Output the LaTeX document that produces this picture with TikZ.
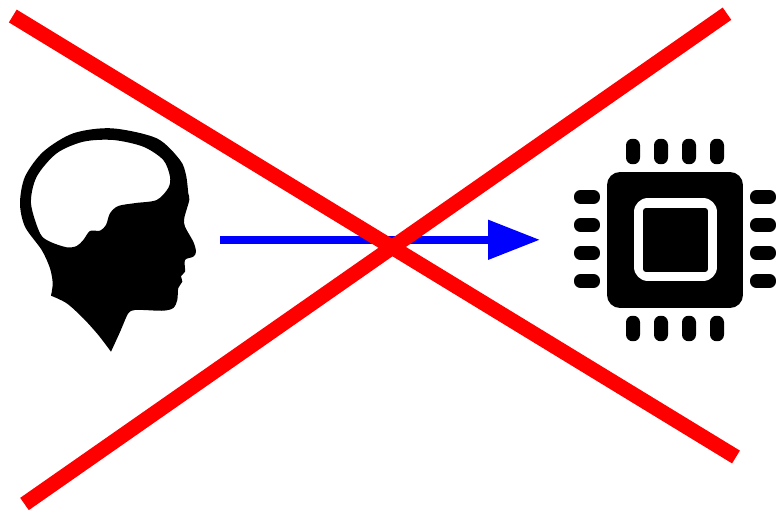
\documentclass[tikz,border=0pt]{standalone}
\usepackage{tikz}
\usetikzlibrary{arrows.meta}
\tikzset{
  crossline/.style={draw=red, line width=0.3cm},
  flowarrow/.style={-{Triangle[length=1.04cm, width=0.76cm]}, draw=blue, line width=0.16cm},
  chipbody/.style={fill=black, rounded corners=0.26cm, minimum width=2.72cm, minimum height=2.72cm, inner sep=0pt},
  chipring/.style={fill=white, rounded corners=0.28cm, minimum width=1.66cm, minimum height=1.66cm, inner sep=0pt},
  chipcore/.style={fill=black, rounded corners=0.06cm, minimum width=1.3cm, minimum height=1.28cm, inner sep=0pt},
  pinv/.style={fill=black, rounded corners=0.13cm, minimum width=0.28cm, minimum height=0.51cm, inner sep=0pt},
  pinh/.style={fill=black, rounded corners=0.13cm, minimum width=0.52cm, minimum height=0.28cm, inner sep=0pt}
}
\begin{document}
\begin{tikzpicture}[x=0.02cm, y=-0.02cm]
  \useasboundingbox (0,0) rectangle (779,510);
  % head
  \fill[black, even odd rule]
    plot[smooth, tension=0.5] coordinates {(111,351.7) (120,332) (128.3,313.3) (135,310) (143.3,310) (163.3,310.7) (173.3,308) (177.3,300) (178.3,288) (182.3,281.7) (181,276) (185,271.7) (185,260) (193.3,256.7) (196,251.7) (193.3,241.7) (185,226.7) (184.3,218) (189.3,200) (188.3,193.3) (186,175) (180,160) (156.7,138.3) (111.7,128.3) (73.3,133.3) (43.3,151.7) (25,176.7) (20,203.3) (25,226.7) (41.7,250) (50,268.3) (52.7,283.3) (51,295.7)}
    -- plot[smooth, tension=0.5] coordinates {(51,295.7) (66.7,303.3) (83.3,318.3) (98.3,335) (111,351.7)} -- cycle
    plot[smooth cycle, tension=0.5] coordinates {(31,203.3) (36.7,176.7) (56.7,153.3) (83.3,141.7) (113.3,140) (143.3,146.7) (163.3,160) (170,176.7) (168.3,188) (156.7,200) (136,203) (118.3,206) (110,213.3) (106,225) (100,230.7) (90,231) (83.3,240) (76.7,246) (66.7,247.3) (50,241.7) (40,233.3)};
  % chip
  \node[chipbody] (chip) at (675,240) {};
  \node[chipring] (ring) at (675.5,239.5) {};
  \node[chipcore] (core) at (675.5,240) {};
  \foreach \px/\i in {633/1,661/2,689/3,717/4} {
    \node[pinv] (top\i) at (\px,151.5) {};
    \node[pinv] (bot\i) at (\px,328.5) {};
  }
  \foreach \py/\i in {197/1,225/2,253/3,281/4} {
    \node[pinh] (left\i) at (587,\py) {};
    \node[pinh] (right\i) at (763,\py) {};
  }
  % arrow and cross
  \coordinate (from) at (220.3,239.8);
  \coordinate (to) at (540,239.8);
  \draw[flowarrow] (from) -- (to);
  \coordinate (a1) at (12.8,16);
  \coordinate (a2) at (736,457);
  \coordinate (b1) at (727,13.7);
  \coordinate (b2) at (24.5,504);
  \draw[crossline] (a1) -- (a2);
  \draw[crossline] (b1) -- (b2);
\end{tikzpicture}
\end{document}
